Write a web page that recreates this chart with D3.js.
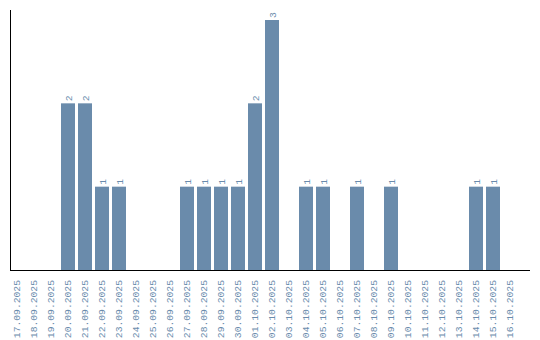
<!DOCTYPE html>
<html lang="en">
<head>
	<meta charset="UTF-8">
	<title>Document</title>
	<script src="https://d3js.org/d3.v7.min.js"></script>
	<style>
		body {
			margin: 0;
			background-color: white;
		}
		svg {
			background-color: white;
			display: block;
		}
		.axis path,
		.axis line {
			fill: none;
			stroke: black;
			shape-rendering: crispEdges;
		}
		.axis text,
		.val {
			font-family: "Liberation Mono", monospace;
			font-size: 9.7px;
			fill: #6a8bac;
		}
	</style>
</head>
<body>
	<script>
		var dates = ['17.09.2025','18.09.2025','19.09.2025','20.09.2025','21.09.2025','22.09.2025',
			'23.09.2025','24.09.2025','25.09.2025','26.09.2025','27.09.2025','28.09.2025',
			'29.09.2025','30.09.2025','01.10.2025','02.10.2025','03.10.2025','04.10.2025',
			'05.10.2025','06.10.2025','07.10.2025','08.10.2025','09.10.2025','10.10.2025',
			'11.10.2025','12.10.2025','13.10.2025','14.10.2025','15.10.2025','16.10.2025'];
		var counts = [0,0,0,2,2,1,1,0,0,0,1,1,1,1,2,3,0,1,1,0,1,0,1,0,0,0,0,1,1,0];

		var w = 540,
			h = 340;

		var svg = d3.select('body')
			.append('svg')
			.attr('width', w)
			.attr('height', h);

		var x = d3.scaleBand()
			.domain(dates)
			.range([10, 517])
			.paddingInner(3 / 17)
			.paddingOuter(0);

		var y = d3.scaleLinear()
			.domain([0, 3])
			.range([270, 20]);

		var data = dates.map(function (d, i) {
			return {date: d, count: counts[i]};
		});

		svg.selectAll('rect')
			.data(data.filter(function (d) { return d.count > 0; }))
			.enter()
			.append('rect')
			.attr('fill', '#6a8bab')
			.attr('x', function (d) { return x(d.date); })
			.attr('y', function (d) { return y(d.count); })
			.attr('width', x.bandwidth())
			.attr('height', function (d) { return y(0) - y(d.count); });

		svg.selectAll('text.val')
			.data(data.filter(function (d) { return d.count > 0; }))
			.enter()
			.append('text')
			.attr('class', 'val')
			.attr('transform', function (d) {
				return 'translate(' + (x(d.date) + x.bandwidth() / 2 + 3.5) + ',' + (y(d.count) - 2) + ') rotate(-90)';
			})
			.text(function (d) { return d.count; });

		// x axis
		var xAxis = svg.append('g')
			.attr('class', 'axis')
			.attr('transform', 'translate(0,270)')
			.call(d3.axisBottom(x).tickSize(0).tickPadding(0));
		xAxis.select('.domain').attr('d', 'M10,0.5H530');
		xAxis.selectAll('text')
			.attr('transform', 'rotate(-90)')
			.attr('text-anchor', 'end')
			.attr('x', -10)
			.attr('y', 0)
			.attr('dy', '0.35em');

		// y axis line only
		svg.append('line')
			.attr('x1', 10.5).attr('x2', 10.5)
			.attr('y1', 10).attr('y2', 270)
			.attr('stroke', 'black')
			.attr('shape-rendering', 'crispEdges');
	</script>
</body>
</html>
